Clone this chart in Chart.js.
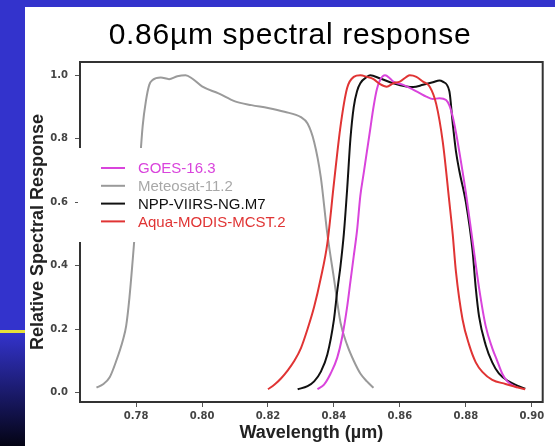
<!DOCTYPE html>
<html>
<head>
<meta charset="utf-8">
<script src="https://cdn.jsdelivr.net/npm/chart.js@4.4.1/dist/chart.umd.min.js"></script>
<style>
  html, body { margin: 0; padding: 0; }
  body { width: 555px; height: 446px; background: #3333cc; position: relative; overflow: hidden; }
  #panel { position: absolute; left: 25px; top: 7px; width: 530px; height: 439px; background: #fff; }
  #fade { position: absolute; left: 0; top: 333px; width: 25px; height: 113px; background: linear-gradient(#3333cc, #040414); }
  #rule { position: absolute; left: 0; top: 330px; width: 25px; height: 3px; background: #e6e03a; }
  #title { position: absolute; left: 0; top: 12px; width: 530px; text-align: center; font: 30px "Liberation Sans", Arial, sans-serif; line-height: 30px; letter-spacing: 0.7px; color: #000; }
  #chart { position: absolute; left: 0; top: 0; }
</style>
</head>
<body>
<div id="fade"></div>
<div id="rule"></div>
<div id="panel">
  <canvas id="chart" width="530" height="439"></canvas>
  <div id="title">0.86µm spectral response</div>
</div>
<script>
// axis ticks
const xTicks = [0.78, 0.80, 0.82, 0.84, 0.86, 0.88, 0.90];
const yTicks = [0.0, 0.2, 0.4, 0.6, 0.8, 1.0];

// series names / colours
const seriesNames = ["GOES-16.3", "Meteosat-11.2", "NPP-VIIRS-NG.M7", "Aqua-MODIS-MCST.2"];
const lineColors = ["#d944dc", "#9a9a9a", "#111111", "#e03434"];
const textColors = ["#d944dc", "#a8a8a8", "#111111", "#e03434"];

// GOES-16 band 3
const goesWl = [0.835, 0.837, 0.839, 0.841, 0.8425, 0.844, 0.845, 0.846, 0.847, 0.848, 0.849, 0.850, 0.851, 0.852, 0.853, 0.854, 0.8555, 0.857, 0.858, 0.861, 0.864, 0.866, 0.868, 0.870, 0.872, 0.874, 0.875, 0.876, 0.877, 0.878, 0.880, 0.882, 0.884, 0.886, 0.888, 0.8895, 0.891, 0.8925, 0.8955];
const goesRsr = [0.01, 0.025, 0.06, 0.11, 0.175, 0.27, 0.35, 0.43, 0.51, 0.62, 0.69, 0.76, 0.83, 0.90, 0.955, 0.985, 1.0, 0.99, 0.98, 0.97, 0.955, 0.944, 0.933, 0.925, 0.928, 0.922, 0.905, 0.87, 0.82, 0.76, 0.63, 0.48, 0.33, 0.21, 0.14, 0.10, 0.06, 0.036, 0.015];

// Meteosat-11 channel 2
const metWl = [0.768, 0.770, 0.772, 0.774, 0.776, 0.777, 0.778, 0.779, 0.780, 0.781, 0.782, 0.783, 0.784, 0.785, 0.7875, 0.790, 0.7925, 0.795, 0.797, 0.800, 0.805, 0.810, 0.815, 0.820, 0.825, 0.830, 0.832, 0.834, 0.836, 0.838, 0.840, 0.842, 0.844, 0.846, 0.848, 0.850, 0.852];
const metRsr = [0.015, 0.026, 0.048, 0.10, 0.165, 0.21, 0.30, 0.42, 0.55, 0.70, 0.84, 0.92, 0.97, 0.985, 0.993, 0.988, 0.997, 1.0, 0.99, 0.965, 0.943, 0.918, 0.906, 0.897, 0.885, 0.868, 0.848, 0.79, 0.68, 0.50, 0.36, 0.22, 0.15, 0.10, 0.06, 0.035, 0.015];

// NPP VIIRS M7
const nppWl = [0.829, 0.832, 0.834, 0.836, 0.838, 0.840, 0.841, 0.842, 0.843, 0.844, 0.845, 0.846, 0.847, 0.848, 0.850, 0.851, 0.854, 0.858, 0.862, 0.864, 0.867, 0.870, 0.872, 0.873, 0.875, 0.876, 0.877, 0.878, 0.880, 0.882, 0.883, 0.884, 0.886, 0.888, 0.890, 0.893, 0.896, 0.898];
const nppRsr = [0.01, 0.02, 0.035, 0.065, 0.12, 0.23, 0.32, 0.40, 0.50, 0.64, 0.80, 0.90, 0.95, 0.975, 0.995, 1.0, 0.99, 0.975, 0.965, 0.963, 0.97, 0.978, 0.984, 0.98, 0.95, 0.85, 0.76, 0.70, 0.60, 0.45, 0.33, 0.24, 0.15, 0.095, 0.06, 0.035, 0.02, 0.012];

// Aqua MODIS band 2
const aquaWl = [0.820, 0.822, 0.824, 0.826, 0.828, 0.830, 0.832, 0.834, 0.836, 0.838, 0.840, 0.842, 0.844, 0.846, 0.848, 0.850, 0.852, 0.854, 0.856, 0.858, 0.860, 0.862, 0.863, 0.865, 0.867, 0.869, 0.871, 0.873, 0.875, 0.876, 0.877, 0.879, 0.881, 0.883, 0.885, 0.888, 0.892, 0.895, 0.898];
const aquaRsr = [0.01, 0.025, 0.045, 0.07, 0.10, 0.14, 0.20, 0.27, 0.36, 0.47, 0.66, 0.84, 0.96, 0.995, 1.0, 0.995, 0.988, 0.972, 0.964, 0.975, 0.98, 0.995, 1.0, 0.995, 0.98, 0.965, 0.91, 0.79, 0.60, 0.50, 0.38, 0.23, 0.15, 0.095, 0.065, 0.04, 0.027, 0.018, 0.01];

const allWl = [goesWl, metWl, nppWl, aquaWl];
const allRsr = [goesRsr, metRsr, nppRsr, aquaRsr];
const drawOrder = [1, 3, 2, 0]; // aqua on top

function toPoints(wl, rsr) {
  return wl.map((w, i) => ({ x: w, y: rsr[i] }));
}

const datasets = seriesNames.map((name, i) => ({
  label: name,
  data: toPoints(allWl[i], allRsr[i]),
  borderColor: lineColors[i],
  borderWidth: 2,
  pointRadius: 0,
  cubicInterpolationMode: "monotone",
  fill: false,
  order: drawOrder[i]
}));

// box around the plot, like R's default
const framePlugin = {
  id: "frame",
  afterDatasetsDraw(chart) {
    const { ctx, chartArea: a } = chart;
    ctx.save();
    ctx.strokeStyle = "#333";
    ctx.lineWidth = 2;
    ctx.strokeRect(a.left, a.top, a.right - a.left, a.bottom - a.top);
    ctx.restore();
  }
};

// legend drawn inside the plot on a white box
const legendBox = {
  id: "legendBox",
  afterDraw(chart) {
    const { ctx, chartArea: a } = chart;
    const left = a.left - 2;
    const top = a.top + 86;
    ctx.save();
    ctx.fillStyle = "#fff";
    ctx.fillRect(left, top, 232, 94);
    ctx.font = '15px "Liberation Sans", Arial, sans-serif';
    ctx.textBaseline = "middle";
    seriesNames.forEach((name, i) => {
      const y = top + 20 + i * 17.8;
      ctx.strokeStyle = lineColors[i];
      ctx.lineWidth = 2;
      ctx.beginPath();
      ctx.moveTo(left + 23, y);
      ctx.lineTo(left + 47, y);
      ctx.stroke();
      ctx.fillStyle = textColors[i];
      ctx.fillText(name, left + 60, y + 1);
    });
    ctx.restore();
  }
};

const tickFont = { family: "DejaVu Sans", size: 10, weight: "bold" };
const titleFont = { family: "Liberation Sans", size: 18, weight: "bold" };

new Chart(document.getElementById("chart"), {
  type: "line",
  data: { datasets },
  options: {
    responsive: false,
    animation: false,
    layout: { padding: { left: 0, right: 12.3, top: 55, bottom: 0 } },
    plugins: {
      legend: { display: false },
      tooltip: { enabled: false },
      title: { display: false }
    },
    scales: {
      x: {
        type: "linear",
        min: 0.763,
        max: 0.9033,
        afterBuildTicks: (scale) => { scale.ticks = xTicks.map(v => ({ value: v })); },
        afterFit: (scale) => { scale.height = 44; },
        ticks: {
          font: tickFont,
          color: "#444",
          padding: 3,
          maxRotation: 0,
          callback: (v) => Number(v).toFixed(2)
        },
        grid: { drawOnChartArea: false, drawTicks: true, tickLength: 5, tickColor: "#555", tickWidth: 1 },
        border: { display: false },
        title: { display: true, text: "Wavelength (µm)", font: titleFont, color: "#222", padding: { top: 0, bottom: 2 } }
      },
      y: {
        type: "linear",
        min: -0.03,
        max: 1.042,
        afterBuildTicks: (scale) => { scale.ticks = yTicks.map(v => ({ value: v })); },
        afterFit: (scale) => { scale.width = 55; },
        ticks: {
          font: tickFont,
          color: "#444",
          padding: 7,
          callback: (v) => Number(v).toFixed(1)
        },
        grid: { drawOnChartArea: false, drawTicks: true, tickLength: 5, tickColor: "#555", tickWidth: 1 },
        border: { display: false },
        title: { display: true, text: "Relative Spectral Response", font: titleFont, color: "#222", padding: { top: 2, bottom: 0 } }
      }
    }
  },
  plugins: [framePlugin, legendBox]
});
</script>
</body>
</html>
